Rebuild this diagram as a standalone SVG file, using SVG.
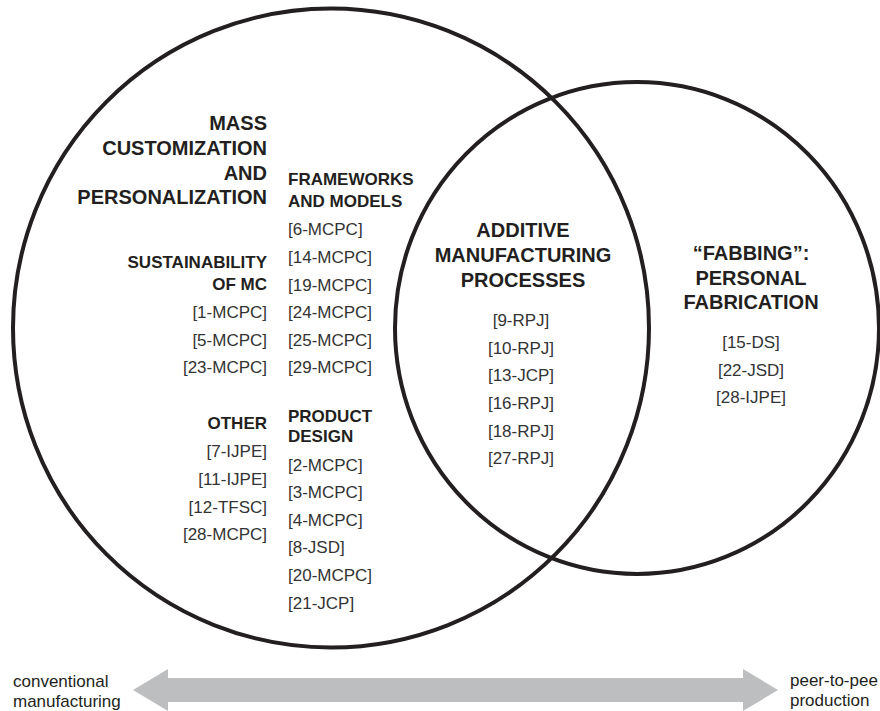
<svg xmlns="http://www.w3.org/2000/svg" width="880" height="711" viewBox="0 0 880 711">
<style>
  .ring { fill: none; stroke: #231f20; stroke-width: 4; }
  .h1 { font-family: "Liberation Sans", Arial, sans-serif; font-weight: bold; font-size: 20px; fill: #231f20; }
  .h2 { font-family: "Liberation Sans", Arial, sans-serif; font-weight: bold; font-size: 17px; fill: #231f20; }
  .ref { font-family: "Liberation Sans", Arial, sans-serif; font-size: 17px; fill: #333333; }
  .axis { font-family: "Liberation Sans", Arial, sans-serif; font-size: 17px; fill: #231f20; }
  .r { text-anchor: end; }
  .m { text-anchor: middle; }
</style>
<rect width="880" height="711" fill="#ffffff"/>

<g id="mass-customization">
  <ellipse class="ring" cx="331" cy="328" rx="318" ry="319.5"/>
  <text class="h1 r" x="267" y="130">MASS</text>
  <text class="h1 r" x="267" y="155">CUSTOMIZATION</text>
  <text class="h1 r" x="267" y="180">AND</text>
  <text class="h1 r" x="267" y="204">PERSONALIZATION</text>
</g>

<g id="frameworks-and-models">
  <text class="h2" x="288" y="185">FRAMEWORKS</text>
  <text class="h2" x="288" y="207">AND MODELS</text>
  <text class="ref" x="288" y="235">[6-MCPC]</text>
  <text class="ref" x="288" y="263">[14-MCPC]</text>
  <text class="ref" x="288" y="291">[19-MCPC]</text>
  <text class="ref" x="288" y="318">[24-MCPC]</text>
  <text class="ref" x="288" y="346">[25-MCPC]</text>
  <text class="ref" x="288" y="373">[29-MCPC]</text>
</g>

<g id="sustainability">
  <text class="h2 r" x="267" y="268">SUSTAINABILITY</text>
  <text class="h2 r" x="267" y="290">OF MC</text>
  <text class="ref r" x="267" y="318">[1-MCPC]</text>
  <text class="ref r" x="267" y="346">[5-MCPC]</text>
  <text class="ref r" x="267" y="373">[23-MCPC]</text>
</g>

<g id="other">
  <text class="h2 r" x="267" y="429">OTHER</text>
  <text class="ref r" x="267" y="457">[7-IJPE]</text>
  <text class="ref r" x="267" y="485">[11-IJPE]</text>
  <text class="ref r" x="267" y="513">[12-TFSC]</text>
  <text class="ref r" x="267" y="540">[28-MCPC]</text>
</g>

<g id="product-design">
  <text class="h2" x="288" y="422">PRODUCT</text>
  <text class="h2" x="288" y="442">DESIGN</text>
  <text class="ref" x="288" y="471">[2-MCPC]</text>
  <text class="ref" x="288" y="498">[3-MCPC]</text>
  <text class="ref" x="288" y="526">[4-MCPC]</text>
  <text class="ref" x="288" y="553">[8-JSD]</text>
  <text class="ref" x="288" y="581">[20-MCPC]</text>
  <text class="ref" x="288" y="609">[21-JCP]</text>
</g>

<g id="personal-fabrication">
  <ellipse class="ring" cx="637" cy="328" rx="242" ry="246"/>
  <text class="h1 m" x="751" y="260">“FABBING”:</text>
  <text class="h1 m" x="751" y="285">PERSONAL</text>
  <text class="h1 m" x="751" y="309">FABRICATION</text>
  <text class="ref m" x="751" y="348">[15-DS]</text>
  <text class="ref m" x="751" y="376">[22-JSD]</text>
  <text class="ref m" x="751" y="403">[28-IJPE]</text>
</g>

<g id="additive-manufacturing">
  <text class="h1 m" x="523" y="237">ADDITIVE</text>
  <text class="h1 m" x="523" y="262">MANUFACTURING</text>
  <text class="h1 m" x="523" y="287">PROCESSES</text>
  <text class="ref m" x="521" y="326">[9-RPJ]</text>
  <text class="ref m" x="521" y="354">[10-RPJ]</text>
  <text class="ref m" x="521" y="381">[13-JCP]</text>
  <text class="ref m" x="521" y="409">[16-RPJ]</text>
  <text class="ref m" x="521" y="437">[18-RPJ]</text>
  <text class="ref m" x="521" y="464">[27-RPJ]</text>
</g>

<g id="connectors">
  <polygon fill="#bcbec0" points="133,690 168,669 168,678 743,678 743,669 778,690 743,711 743,702 168,702 168,711"/>
</g>

<g id="axis-labels">
  <text class="axis" x="13" y="687">conventional</text>
  <text class="axis" x="13" y="707">manufacturing</text>
  <text class="axis" x="790" y="686">peer-to-pee</text>
  <text class="axis" x="790" y="706">production</text>
</g>
</svg>
